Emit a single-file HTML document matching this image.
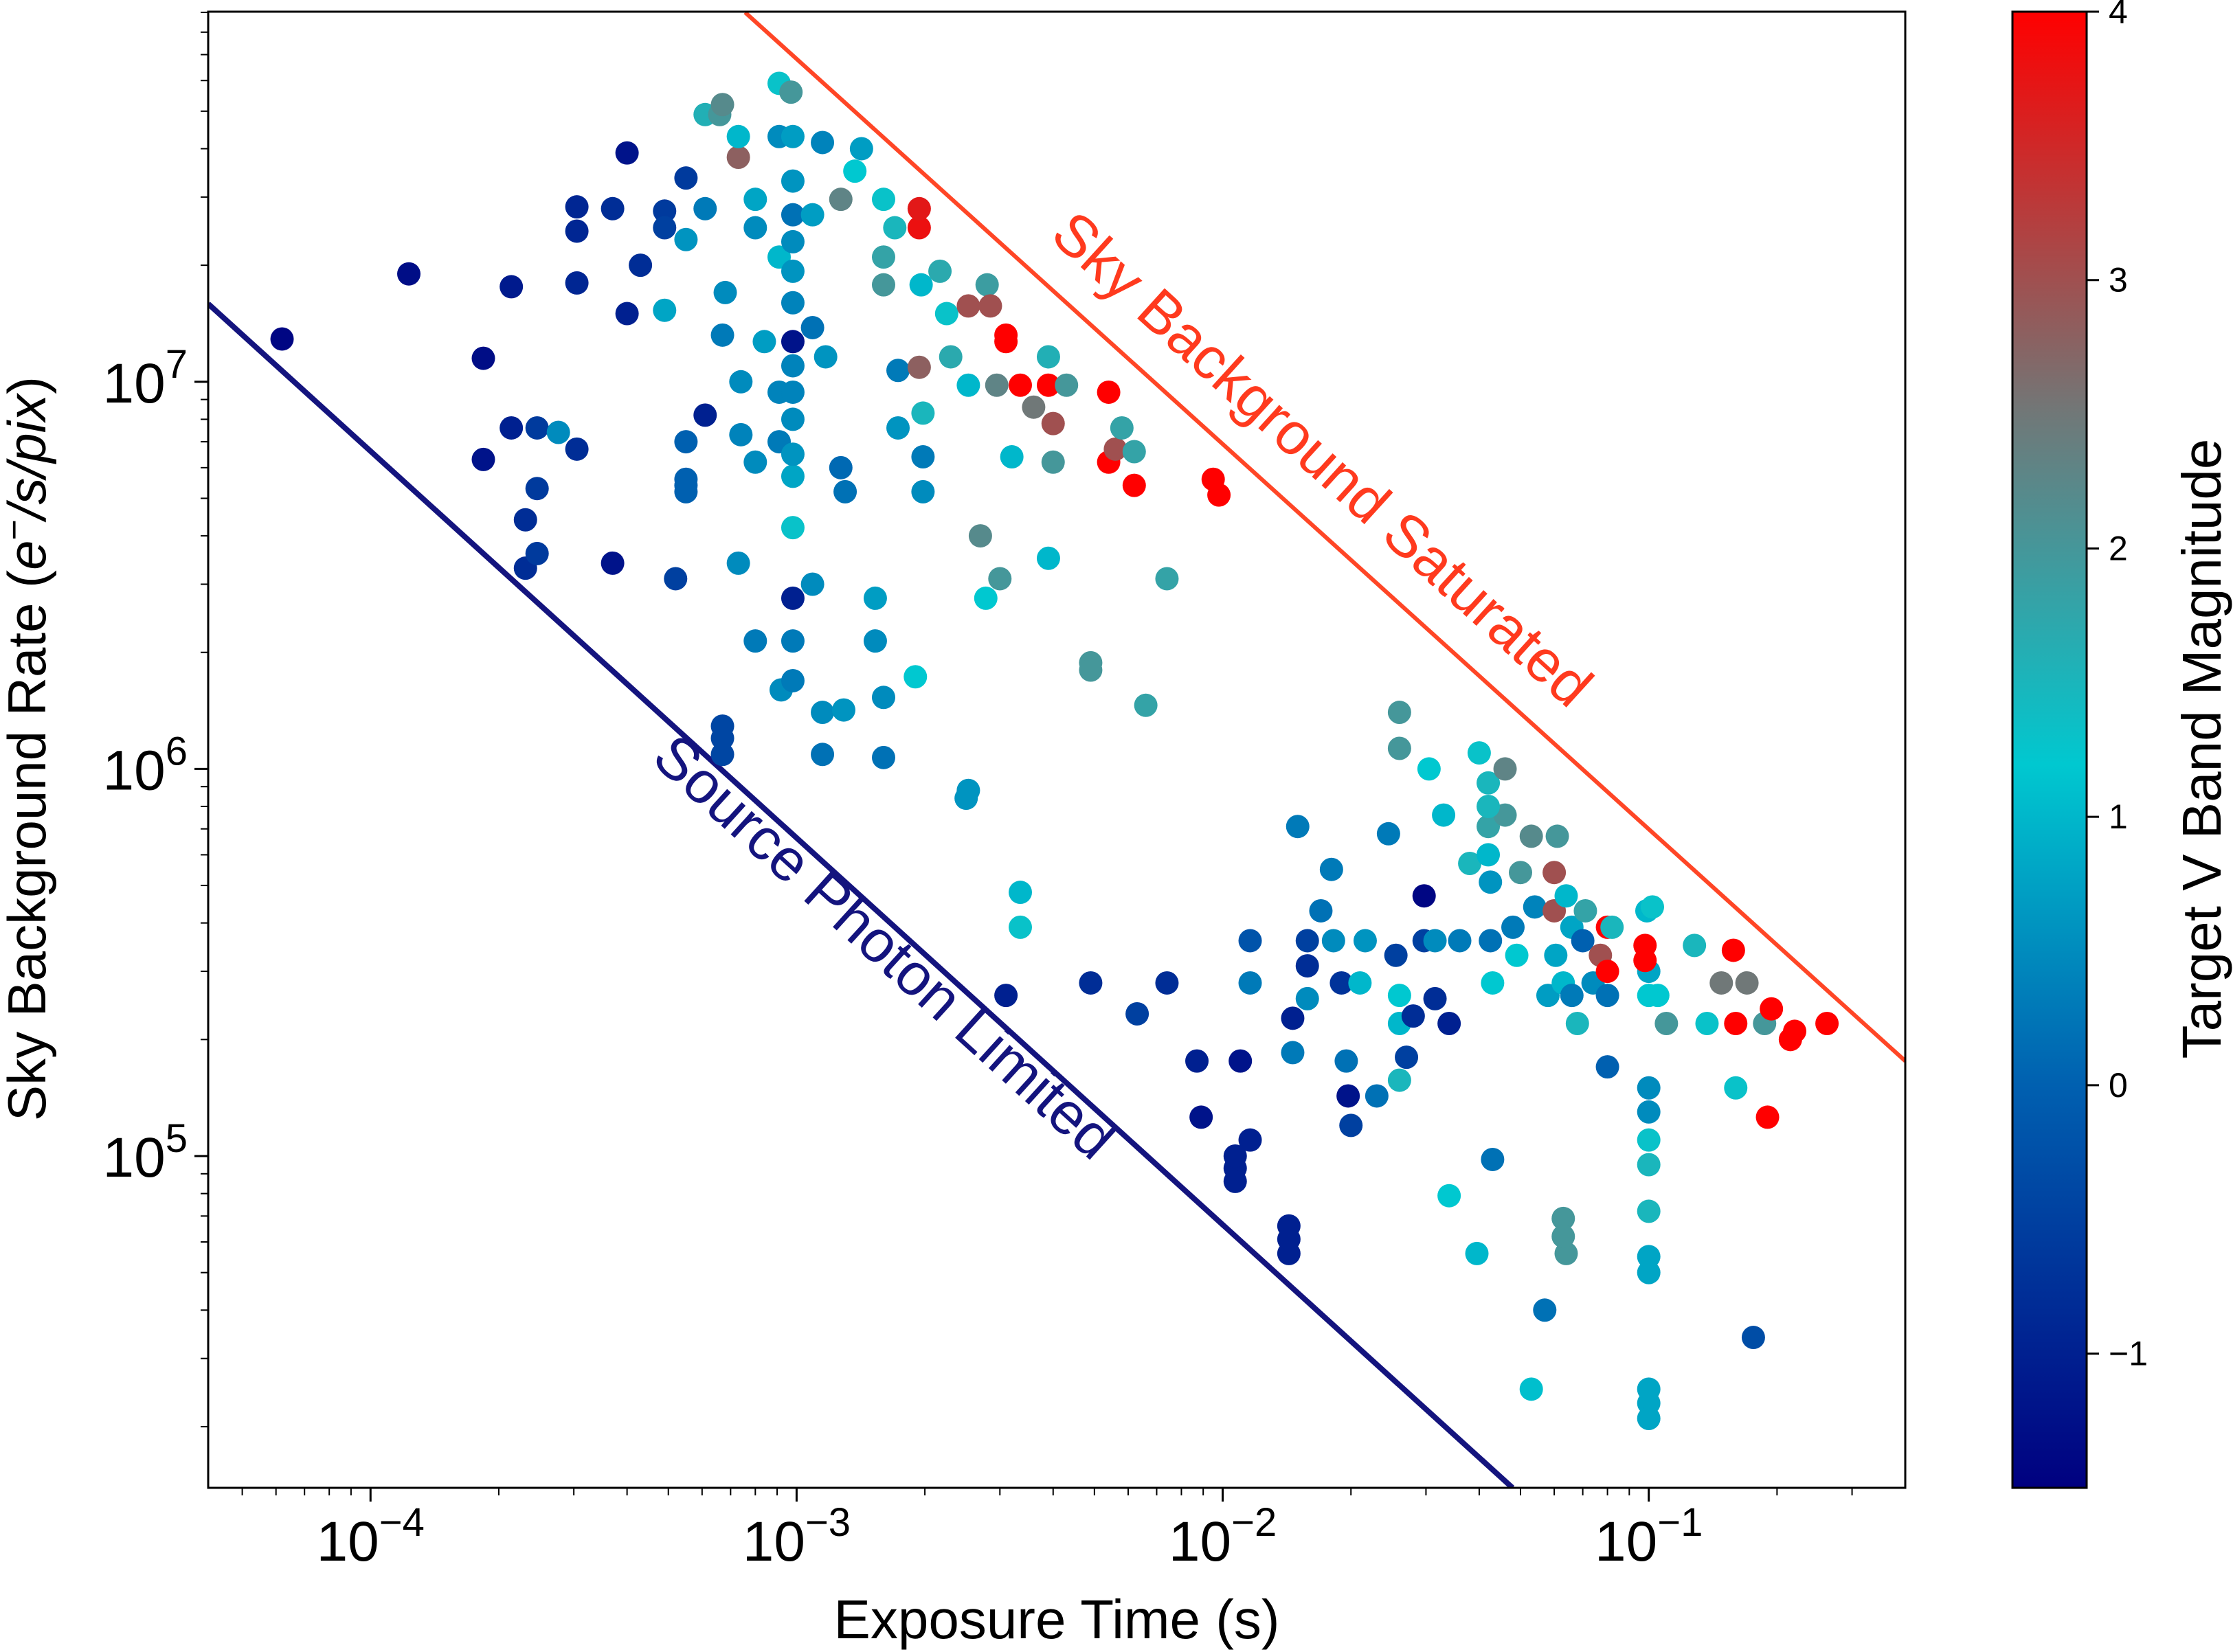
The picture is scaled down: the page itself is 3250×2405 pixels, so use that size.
<!DOCTYPE html>
<html><head><meta charset="utf-8"><style>
html,body{margin:0;padding:0;background:#fff;}
svg{display:block;font-family:"Liberation Sans","DejaVu Sans",sans-serif;}
</style></head><body>
<svg id="chart" width="3250" height="2405" viewBox="0 0 3250 2405" xmlns="http://www.w3.org/2000/svg">
<defs>
<linearGradient id="cmap" x1="0" y1="1" x2="0" y2="0">
<stop offset="0" stop-color="#000080"/>
<stop offset="0.273" stop-color="#0060b0"/>
<stop offset="0.49" stop-color="#00c8d0"/>
<stop offset="0.727" stop-color="#707878"/>
<stop offset="1" stop-color="#ff0000"/>
</linearGradient>
<clipPath id="plotclip"><rect x="303" y="17" width="2470" height="2149"/></clipPath>
</defs>
<g id="marks" clip-path="url(#plotclip)"></g>
<g id="axes"></g>
</svg>
<script>
const exposure = [6.2e-5,1.23e-4,1.84e-4,1.84e-4,2.14e-4,2.14e-4,2.31e-4,2.31e-4,2.46e-4,2.46e-4,2.46e-4,2.76e-4,3.05e-4,3.05e-4,3.05e-4,3.05e-4,3.7e-4,3.7e-4,4.0e-4,4.0e-4,4.3e-4,4.9e-4,4.9e-4,4.9e-4,5.2e-4,5.5e-4,5.5e-4,5.5e-4,5.5e-4,5.5e-4,6.1e-4,6.1e-4,6.1e-4,6.6e-4,6.7e-4,6.7e-4,6.7e-4,6.7e-4,6.8e-4,7.3e-4,7.3e-4,7.4e-4,7.4e-4,7.3e-4,8.0e-4,8.0e-4,8.0e-4,8.0e-4,8.4e-4,9.1e-4,9.1e-4,9.1e-4,9.1e-4,9.1e-4,9.2e-4,9.7e-4,9.8e-4,9.8e-4,9.8e-4,9.8e-4,9.8e-4,9.8e-4,9.8e-4,9.8e-4,9.8e-4,9.8e-4,1.09e-3,1.09e-3,1.09e-3,1.15e-3,1.15e-3,1.15e-3,1.17e-3,1.27e-3,1.27e-3,1.3e-3,1.37e-3,1.42e-3,1.29e-3,1.6e-3,1.6e-3,1.53e-3,1.53e-3,1.6e-3,1.6e-3,1.6e-3,1.7e-3,1.73e-3,1.73e-3,1.9e-3,1.94e-3,1.94e-3,1.94e-3,1.96e-3,1.98e-3,1.98e-3,1.98e-3,2.17e-3,2.25e-3,2.3e-3,2.53e-3,2.53e-3,2.53e-3,2.7e-3,2.78e-3,2.8e-3,2.85e-3,2.95e-3,3.0e-3,3.1e-3,3.1e-3,3.1e-3,3.2e-3,3.35e-3,3.35e-3,3.35e-3,3.6e-3,3.9e-3,3.9e-3,4.0e-3,4.0e-3,3.9e-3,4.3e-3,4.9e-3,4.9e-3,5.4e-3,5.4e-3,5.6e-3,5.8e-3,6.2e-3,6.2e-3,6.3e-3,6.6e-3,7.4e-3,7.4e-3,8.7e-3,8.9e-3,9.5e-3,9.8e-3,
1.07e-2,1.07e-2,1.1e-2,1.16e-2,1.16e-2,1.16e-2,1.43e-2,1.46e-2,1.46e-2,1.5e-2,1.58e-2,1.58e-2,1.58e-2,1.7e-2,1.8e-2,1.82e-2,1.9e-2,1.97e-2,2.0e-2,1.95e-2,2.1e-2,2.16e-2,2.3e-2,2.45e-2,2.55e-2,2.6e-2,2.6e-2,2.6e-2,2.6e-2,2.6e-2,2.7e-2,2.8e-2,2.97e-2,2.97e-2,3.05e-2,3.15e-2,3.15e-2,3.3e-2,3.4e-2,3.4e-2,3.6e-2,3.8e-2,3.95e-2,4.0e-2,4.2e-2,4.2e-2,4.25e-2,4.25e-2,4.3e-2,4.3e-2,4.6e-2,4.6e-2,4.8e-2,4.9e-2,5.0e-2,5.3e-2,5.3e-2,5.4e-2,5.7e-2,5.8e-2,6.0e-2,6.0e-2,6.05e-2,6.1e-2,6.3e-2,6.3e-2,6.4e-2,6.4e-2,6.6e-2,6.6e-2,6.8e-2,7.0e-2,7.1e-2,7.4e-2,7.7e-2,8.0e-2,8.0e-2,8.0e-2,8.0e-2,8.2e-2,9.9e-2,1.0e-1,1.0e-1,1.0e-1,1.0e-1,1.0e-1,1.0e-1,1.02e-1,1.05e-1,1.1e-1,1.28e-1,1.37e-1,1.48e-1,1.58e-1,1.6e-1,1.6e-1,1.7e-1,1.76e-1,1.87e-1,1.9e-1,1.94e-1,2.15e-1,2.2e-1,2.62e-1,
9.8e-4,9.8e-4,9.8e-4,9.8e-4,9.8e-4,9.8e-4,1.0e-1,1.0e-1,1.0e-1,9.8e-2,9.8e-2,4.2e-2,4.2e-2,1.07e-2,1.43e-2,1.43e-2,6.7e-4,5.5e-4,1.0e-1,1.0e-1,1.0e-1,6.3e-2,4.9e-3,2.5e-3];
const skyRate = [1.29e7,1.9e7,1.15e7,6.3e6,1.76e7,7.6e6,4.4e6,3.3e6,7.6e6,5.3e6,3.6e6,7.4e6,2.83e7,2.45e7,1.8e7,6.7e6,2.8e7,3.4e6,3.9e7,1.5e7,2.0e7,2.76e7,1.53e7,2.5e7,3.1e6,7.0e6,5.6e6,5.2e6,3.36e7,2.33e7,8.2e6,2.8e7,4.9e7,4.9e7,5.2e7,1.09e6,1.29e6,1.32e7,1.7e7,3.8e7,4.3e7,1.0e7,7.3e6,3.4e6,2.96e7,2.5e7,6.2e6,2.14e6,1.27e7,5.9e7,4.3e7,2.1e7,9.4e6,7.0e6,1.6e6,5.6e7,4.3e7,2.7e7,1.93e7,1.27e7,9.4e6,5.7e6,4.2e6,2.76e6,2.14e6,1.69e6,3.0e6,2.7e7,1.38e7,1.09e6,1.4e6,4.15e7,1.16e7,2.96e7,6.0e6,5.2e6,3.5e7,4.0e7,1.42e6,1.53e6,1.07e6,2.76e6,2.14e6,2.96e7,2.1e7,1.78e7,2.5e7,1.07e7,7.6e6,1.73e6,2.5e7,2.8e7,1.09e7,1.78e7,8.3e6,6.4e6,5.2e6,1.93e7,1.5e7,1.16e7,1.57e7,9.8e6,8.8e5,4.0e6,2.76e6,1.78e7,1.57e7,9.8e6,3.1e6,1.32e7,1.27e7,2.6e5,6.4e6,9.8e6,4.8e5,3.9e5,8.6e6,9.8e6,1.16e7,7.8e6,6.2e6,3.5e6,9.8e6,1.88e6,2.8e5,9.4e6,6.2e6,6.7e6,7.6e6,6.6e6,5.4e6,2.33e5,1.46e6,3.1e6,2.8e5,1.76e5,1.26e5,5.6e6,5.1e6,
9.3e4,8.6e4,1.76e5,3.6e5,2.8e5,1.1e5,6.1e4,2.27e5,1.85e5,7.1e5,3.6e5,3.1e5,2.55e5,4.3e5,5.5e5,3.6e5,2.8e5,1.43e5,1.2e5,1.76e5,2.8e5,3.6e5,1.43e5,6.8e5,3.3e5,1.13e6,1.4e6,2.6e5,2.2e5,1.57e5,1.8e5,2.3e5,4.7e5,3.6e5,1.0e6,3.6e5,2.55e5,7.6e5,2.2e5,7.9e4,3.6e5,5.7e5,5.6e4,1.1e6,9.2e5,7.1e5,5.1e5,3.6e5,2.8e5,9.8e4,1.0e6,7.6e5,3.9e5,3.3e5,5.4e5,6.7e5,2.5e4,4.4e5,4.0e4,2.6e5,5.4e5,4.3e5,3.3e5,6.7e5,2.8e5,6.9e4,5.6e4,4.7e5,3.9e5,2.6e5,2.2e5,3.6e5,4.3e5,2.8e5,3.3e5,3.9e5,3.0e5,2.6e5,1.7e5,3.9e5,4.3e5,1.3e5,9.5e4,7.2e4,5.0e4,2.3e4,2.6e5,4.4e5,2.6e5,2.2e5,3.5e5,2.2e5,2.8e5,3.4e5,2.2e5,1.5e5,2.8e5,3.4e4,2.2e5,1.26e5,2.4e5,2.0e5,2.1e5,2.2e5,
3.3e7,2.3e7,1.6e7,1.1e7,8.0e6,6.5e6,1.1e5,1.5e5,3.0e5,3.5e5,3.2e5,8.0e5,6.0e5,1.0e5,5.6e4,6.6e4,1.2e6,5.4e6,5.5e4,2.1e4,2.5e4,6.2e4,1.8e6,8.4e5];
const magnitude = [-1.4,-1.3,-1.3,-1.2,-1.1,-1.0,-0.8,-0.8,-0.6,-0.6,-0.6,0.5,-0.9,-0.9,-0.9,-0.8,-0.8,-1.2,-1.2,-1.0,-0.8,-0.6,0.8,-0.5,-0.5,0.0,0.0,0.0,-0.6,0.6,-1.0,0.3,1.6,2.0,2.2,-0.4,-0.4,0.3,0.5,2.8,1.0,0.5,0.4,0.5,0.8,0.5,0.5,0.3,0.7,1.3,0.5,1.0,0.4,0.3,0.5,2.0,0.7,0.2,0.6,-1.2,0.4,0.8,1.3,-1.0,0.3,0.3,0.5,0.7,0.2,0.2,0.5,0.4,0.6,2.3,0.1,0.2,1.2,0.7,0.6,0.5,0.2,0.7,0.5,1.3,1.8,2.0,1.5,0.3,0.6,1.2,3.8,3.7,2.8,1.0,1.5,0.3,0.5,1.7,1.3,1.7,3.0,1.0,0.6,2.2,1.2,1.9,3.0,2.3,2.0,4.0,4.0,-1.0,1.0,4.0,1.0,1.3,2.5,4.0,1.6,3.0,2.0,1.0,2.0,2.0,-0.8,4.0,4.0,3.0,1.8,1.8,4.0,-0.5,1.8,1.8,-0.8,-1.0,-1.2,4.0,4.0,
-1.0,-1.0,-1.2,-0.2,0.3,-1.0,-1.0,-1.0,0.3,0.3,-0.5,-0.8,0.5,0.2,0.3,0.5,-0.7,-1.2,-0.5,0.2,1.0,0.6,0.2,0.3,-0.5,2.0,2.0,1.2,1.0,1.5,-0.5,-0.8,-1.4,-0.5,1.2,0.5,-0.8,1.0,-1.0,1.2,0.3,1.5,1.0,1.3,1.5,1.8,0.6,0.2,1.2,0.2,2.3,2.0,0.3,1.2,2.0,2.2,1.1,0.4,0.2,0.7,3.0,3.0,0.8,2.0,1.0,2.0,2.0,1.0,0.8,0.3,1.5,0.0,1.8,0.5,3.0,4.0,4.0,0.2,0.0,1.5,1.0,0.5,1.5,1.5,0.8,0.8,1.2,1.3,1.2,2.0,1.5,1.3,2.5,4.0,4.0,1.3,2.5,-0.3,2.0,4.0,4.0,4.0,4.0,4.0,
0.6,0.5,0.4,0.4,0.5,0.6,1.3,0.5,0.8,4.0,4.0,1.5,1.0,-1.0,-1.0,-1.0,-0.4,0.0,0.8,0.8,0.8,2.0,2.0,0.6];
const xTickLabels = ["−4","−3","−2","−1"];
const xTickExps = [-4,-3,-2,-1];
const yTickExps = [5,6,7];
const cbTicks = [-1,0,1,2,3,4];

const NS="http://www.w3.org/2000/svg";
const PL=303,PR=2773,PT=17,PB=2166;
const XMIN=-4.381,XMAX=-0.398,YMIN=4.143,YMAX=7.956;
const xS=v=>PL+(Math.log10(v)-XMIN)/(XMAX-XMIN)*(PR-PL);
const yS=v=>PB-(Math.log10(v)-YMIN)/(YMAX-YMIN)*(PB-PT);
const CB={x:2929,w:108,top:17,bot:2166,min:-1.5,max:4};
const cbY=m=>CB.bot-(m-CB.min)/(CB.max-CB.min)*(CB.bot-CB.top);
const stops=[[-1.5,[0,0,128]],[0,[0,96,176]],[1.2,[0,200,208]],[2.5,[112,120,120]],[4,[255,0,0]]];
function cmap(m){if(typeof m!=='number'||isNaN(m))m=0;m=Math.max(-1.5,Math.min(4,m));for(let i=0;i<stops.length-1;i++){const[a,ca]=stops[i],[b,cb]=stops[i+1];if(m<=b){const t=(m-a)/(b-a);return`rgb(${ca.map((c,k)=>Math.round(c+(cb[k]-c)*t)).join(',')})`;}}return'red';}
function el(tag,attrs,parent){const e=document.createElementNS(NS,tag);for(const k in attrs)e.setAttribute(k,attrs[k]);parent.appendChild(e);return e;}
const marks=document.getElementById('marks'),axes=document.getElementById('axes');

const satX=[7.57e-4,0.4],satY=[9.0e7,1.76e5];
const srcX=[4.16e-5,0.0479],srcY=[1.59e7,1.39e4];
let l1=el('line',{x1:xS(srcX[0]),y1:yS(srcY[0]),x2:xS(srcX[1]),y2:yS(srcY[1]),stroke:'#14147e','stroke-width':8},marks);


let l2=el('line',{x1:xS(satX[0]),y1:yS(satY[0]),x2:xS(satX[1]),y2:yS(satY[1]),stroke:'#ff4626','stroke-width':6},marks);



for(let i=0;i<exposure.length;i++){
  const c=el('circle',{cx:xS(exposure[i]),cy:yS(skyRate[i]),r:17,fill:cmap(magnitude[i])},marks);
  
  
}

let fr=el('rect',{x:PL,y:PT,width:PR-PL,height:PB-PT,fill:'none',stroke:'#000','stroke-width':3},axes);



for(let d=-5;d<=0;d++){for(let k=1;k<10;k++){const v=k*Math.pow(10,d);const x=xS(v);if(x<PL||x>PR)continue;el('line',{x1:x,y1:PB,x2:x,y2:PB+(k===1?20:11),stroke:'#000','stroke-width':k===1?3:2},axes);}}
xTickExps.forEach((e,i)=>{const x=xS(Math.pow(10,e));const t=el('text',{x:x,y:PB+106,'text-anchor':'middle','font-size':82},axes);t.innerHTML=`10<tspan dy="-36" font-size="58">${xTickLabels[i]}</tspan>`;

});
for(let d=4;d<=7;d++){for(let k=1;k<10;k++){const v=k*Math.pow(10,d);const y=yS(v);if(y<PT||y>PB)continue;el('line',{x1:PL,y1:y,x2:PL-(k===1?20:11),y2:y,stroke:'#000','stroke-width':k===1?3:2},axes);}}
yTickExps.forEach(e=>{const y=yS(Math.pow(10,e));const t=el('text',{x:PL-30,y:y+30,'text-anchor':'end','font-size':82},axes);t.innerHTML=`10<tspan dy="-36" font-size="58">${e}</tspan>`;

});

let xt=el('text',{x:(PL+PR)/2,y:2385,'text-anchor':'middle','font-size':80},axes);xt.textContent='Exposure Time (s)';


let yt=el('text',{x:0,y:0,'text-anchor':'middle','font-size':78,transform:'translate(66,1090) rotate(-90)'},axes);
yt.innerHTML='Sky Background Rate (<tspan font-style="italic">e</tspan><tspan dy="-28" font-size="52">−</tspan><tspan dy="28" font-style="italic">/s/pix</tspan>)';



let a1=el('text',{x:0,y:0,'text-anchor':'middle','font-size':86,fill:'#ff3a1e',transform:'translate(1905,690) rotate(42.2)'},axes);a1.textContent='Sky Background Saturated';


let a2=el('text',{x:0,y:0,'text-anchor':'middle','font-size':86,fill:'#14147e',transform:'translate(1268,1400) rotate(42.2)'},axes);a2.textContent='Source Photon Limited';



let cbr=el('rect',{x:CB.x,y:CB.top,width:CB.w,height:CB.bot-CB.top,fill:'url(#cmap)',stroke:'#000','stroke-width':3},axes);


cbTicks.forEach(m=>{const y=cbY(m);el('line',{x1:CB.x+CB.w,y1:y,x2:CB.x+CB.w+18,y2:y,stroke:'#000','stroke-width':3},axes);
const t=el('text',{x:CB.x+CB.w+32,y:y+17,'font-size':50},axes);t.textContent=m<0?'−'+(-m):String(m);

});
let cbt=el('text',{x:0,y:0,'text-anchor':'middle','font-size':80,transform:'translate(3232,1090) rotate(-90)'},axes);cbt.textContent='Target V Band Magnitude';


</script>
</body></html>
